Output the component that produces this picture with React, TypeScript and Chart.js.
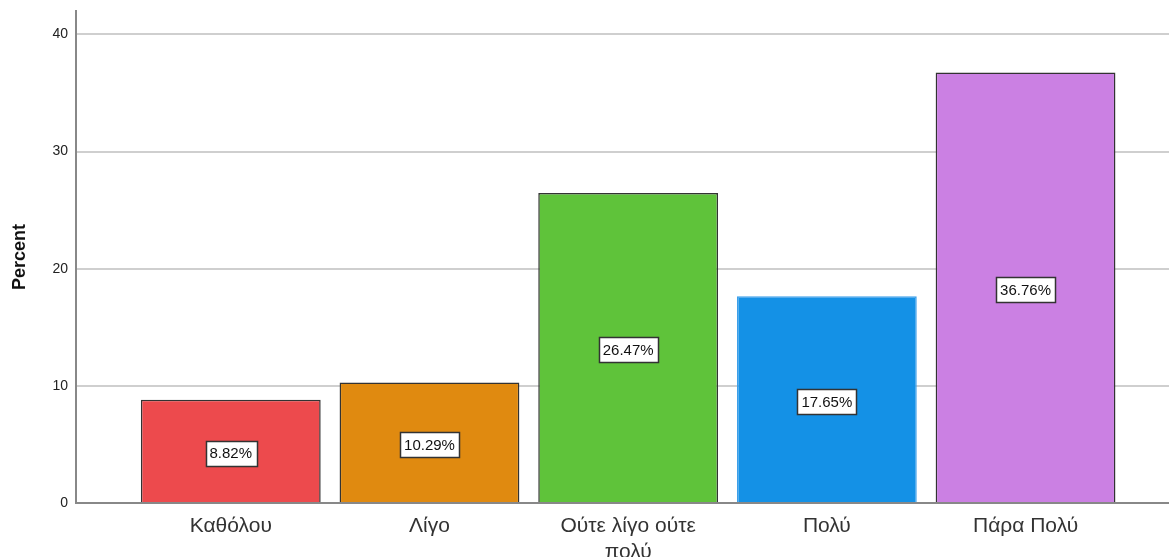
import { useEffect, useRef } from "react";
import { Chart, registerables } from "chart.js";

Chart.register(...registerables);

// Response categories and their share of answers (%)
const categories: (string | string[])[] = [
  "Καθόλου",
  "Λίγο",
  ["Ούτε λίγο ούτε", "πολύ"],
  "Πολύ",
  "Πάρα Πολύ",
];
const percents = [8.82, 10.29, 26.47, 17.65, 36.76];
const barColors = ["#ED4A4D", "#E08A10", "#5FC33A", "#1491E6", "#CB80E3"];
const barBorders = ["#333333", "#333333", "#333333", "#3C9FEA", "#333333"];
const yTicks = [0, 10, 20, 30, 40];

const FONT = "'Liberation Sans', Arial, sans-serif";

// Draws the white percentage boxes in the middle of each bar
const valueBoxes = {
  id: "valueBoxes",
  afterDatasetsDraw(chart: any) {
    const ctx = chart.ctx;
    const yScale = chart.scales.y;
    const meta = chart.getDatasetMeta(0);
    ctx.save();
    ctx.font = `15px ${FONT}`;
    ctx.textAlign = "center";
    ctx.textBaseline = "middle";
    meta.data.forEach((bar: any, i: number) => {
      const v = percents[i];
      const text = v.toFixed(2) + "%";
      const w = ctx.measureText(text).width + 8;
      const h = 25;
      const cx = bar.x;
      const cy = yScale.getPixelForValue(v / 2) + 2;
      const x0 = Math.round(cx - w / 2) + 0.5;
      const y0 = Math.round(cy - h / 2) + 0.5;
      ctx.fillStyle = "#ffffff";
      ctx.fillRect(x0, y0, Math.round(w), h);
      ctx.strokeStyle = "#333333";
      ctx.lineWidth = 1.5;
      ctx.strokeRect(x0, y0, Math.round(w), h);
      ctx.fillStyle = "#111111";
      ctx.fillText(text, cx, cy + 1);
    });
    ctx.restore();
  },
};

export default function App() {
  const canvasRef = useRef<HTMLCanvasElement | null>(null);

  useEffect(() => {
    document.body.style.margin = "0";
    const canvas = canvasRef.current;
    if (!canvas) return;
    const chart = new Chart(canvas, {
      type: "bar",
      data: {
        datasets: [
          {
            data: percents.map((y, x) => ({ x, y })),
            backgroundColor: barColors,
            borderColor: barBorders,
            borderWidth: 1.5,
            categoryPercentage: 1,
            barPercentage: 0.905,
          },
        ],
      },
      options: {
        animation: false,
        responsive: false,
        maintainAspectRatio: false,
        layout: { padding: { top: 11, right: 0, left: 0, bottom: 0 } },
        plugins: {
          legend: { display: false },
          tooltip: { enabled: false },
        },
        scales: {
          x: {
            type: "linear",
            offset: false,
            min: -0.779,
            max: 4.722,
            afterFit(scale: any) {
              scale.height = 54;
              scale.paddingLeft = 0;
              scale.paddingRight = 0;
            },
            afterBuildTicks(scale: any) {
              scale.ticks = categories.map((_, i) => ({ value: i }));
            },
            grid: { display: false, drawTicks: false },
            border: { color: "#888888", width: 2 },
            ticks: {
              autoSkip: false,
              maxRotation: 0,
              padding: 11,
              color: "#333333",
              font: { family: FONT, size: 21 },
              callback: (v: any) => categories[v as number] ?? "",
            },
          },
          y: {
            min: 0,
            max: 42,
            afterFit(scale: any) {
              scale.width = 76;
              scale.paddingTop = 0;
              scale.paddingBottom = 0;
            },
            afterBuildTicks(scale: any) {
              scale.ticks = yTicks.map((v) => ({ value: v }));
            },
            grid: { color: "#CFCFCF", lineWidth: 2, drawTicks: false },
            border: { color: "#888888", width: 2 },
            ticks: {
              padding: 8,
              color: "#222222",
              font: { family: FONT, size: 14 },
            },
            title: {
              display: true,
              text: "Percent",
              color: "#111111",
              padding: { top: 9, bottom: 0 },
              font: { family: FONT, size: 18, weight: "bold" },
            },
          },
        },
      },
      plugins: [valueBoxes],
    } as any);
    return () => chart.destroy();
  }, []);

  return (
    <div style={{ width: 1169, height: 557, background: "#ffffff" }}>
      <canvas ref={canvasRef} width={1169} height={557} style={{ display: "block" }} />
    </div>
  );
}
